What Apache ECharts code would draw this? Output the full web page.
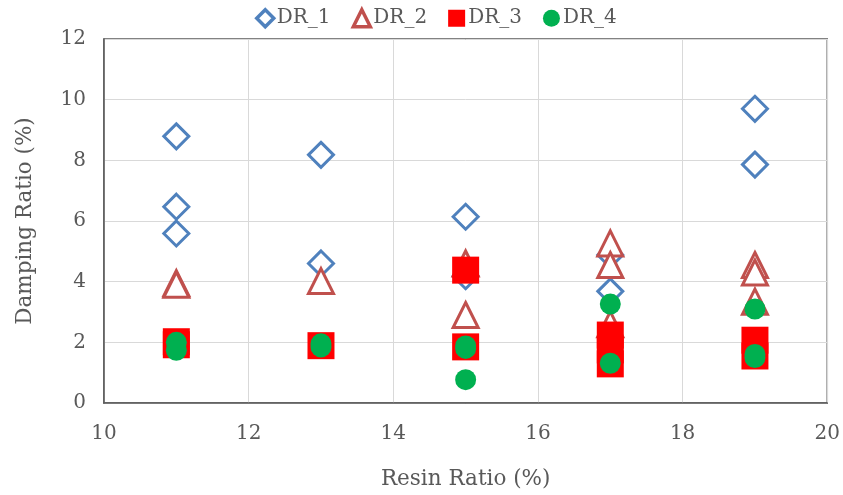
<!DOCTYPE html>
<html>
<head>
<meta charset="utf-8">
<script src="https://cdn.jsdelivr.net/npm/echarts@6/dist/echarts.min.js"></script>
<style>
  html, body { margin: 0; padding: 0; background: #fff; }
  #chart { width: 843px; height: 495px; }
</style>
</head>
<body>
<div id="chart"></div>
<script>
// Damping ratio measurements (%) grouped by resin ratio (%)
const dr1Resin = [11, 11, 11, 13, 13, 15, 15, 17, 17, 19, 19];
const dr1Damp  = [8.79, 6.47, 5.59, 8.18, 4.60, 6.14, 4.18, 4.88, 3.68, 9.70, 7.86];

const dr2Resin = [11, 11, 13, 15, 15, 17, 17, 17, 19, 19, 19];
const dr2Damp  = [3.95, 3.90, 4.02, 4.60, 2.90, 5.26, 4.55, 2.60, 4.55, 4.30, 3.34];

const dr3Resin = [11, 11, 13, 15, 15, 17, 17, 17, 19, 19];
const dr3Damp  = [2.02, 1.92, 1.89, 4.38, 1.85, 2.24, 1.75, 1.29, 2.07, 1.55];

const dr4Resin = [11, 11, 13, 13, 15, 15, 15, 17, 17, 19, 19, 19];
const dr4Damp  = [2.00, 1.74, 1.95, 1.85, 1.88, 1.80, 0.77, 3.26, 1.31, 3.10, 1.60, 1.50];

const seriesNames = ['DR_1', 'DR_2', 'DR_3', 'DR_4'];

function pairs(xs, ys) {
  return xs.map((x, i) => [x, ys[i]]);
}

const textColor = '#595959';
const fontFamily = '"DejaVu Serif", "Liberation Serif", serif';

const chart = echarts.init(document.getElementById('chart'), null, { renderer: 'canvas' });

chart.setOption({
  animation: false,
  backgroundColor: '#ffffff',
  textStyle: { fontFamily: fontFamily, color: textColor },
  legend: {
    top: 3,
    left: 250,
    itemGap: 21,
    itemWidth: 17,
    itemHeight: 17,
    itemStyle: { borderWidth: 3.5 },
    textStyle: { fontFamily: fontFamily, fontSize: 20, color: textColor, padding: [0, 0, 0, -2] },
    data: seriesNames
  },
  grid: {
    left: 104,
    right: 14,
    top: 39,
    bottom: 90,
    show: true,
    borderColor: '#595959',
    borderWidth: 1.5
  },
  xAxis: {
    type: 'value',
    min: 10,
    max: 20,
    interval: 2,
    name: 'Resin Ratio (%)',
    nameLocation: 'middle',
    nameGap: 65,
    nameTextStyle: { fontFamily: fontFamily, fontSize: 21.5, color: textColor },
    axisLine: { show: true, lineStyle: { color: '#595959', width: 1.5 } },
    axisTick: { show: false },
    axisLabel: { fontFamily: fontFamily, fontSize: 20, color: textColor, margin: 21 },
    splitLine: { show: true, lineStyle: { color: '#d9d9d9', width: 1 } }
  },
  yAxis: {
    type: 'value',
    min: 0,
    max: 12,
    interval: 2,
    name: 'Damping Ratio (%)',
    nameLocation: 'middle',
    nameGap: 68,
    nameTextStyle: { fontFamily: fontFamily, fontSize: 21.5, color: textColor },
    axisLine: { show: true, lineStyle: { color: '#595959', width: 1.5 } },
    axisTick: { show: false },
    axisLabel: { fontFamily: fontFamily, fontSize: 20, color: textColor, margin: 18 },
    splitLine: { show: true, lineStyle: { color: '#d9d9d9', width: 1 } }
  },
  series: [
    {
      name: 'DR_1',
      type: 'scatter',
      symbol: 'diamond',
      symbolSize: 25,
      itemStyle: { color: '#ffffff', borderColor: '#4f81bd', borderWidth: 3, opacity: 1 },
      z: 2,
      data: pairs(dr1Resin, dr1Damp)
    },
    {
      name: 'DR_2',
      type: 'scatter',
      symbol: 'triangle',
      symbolSize: 25,
      itemStyle: { color: '#ffffff', borderColor: '#c0504d', borderWidth: 3, opacity: 1 },
      z: 3,
      data: pairs(dr2Resin, dr2Damp)
    },
    {
      name: 'DR_3',
      type: 'scatter',
      symbol: 'rect',
      symbolSize: 27,
      itemStyle: { color: '#ff0000', borderWidth: 0, opacity: 1 },
      z: 4,
      data: pairs(dr3Resin, dr3Damp)
    },
    {
      name: 'DR_4',
      type: 'scatter',
      symbol: 'circle',
      symbolSize: 21,
      itemStyle: { color: '#00b050', borderWidth: 0, opacity: 1 },
      z: 5,
      data: pairs(dr4Resin, dr4Damp)
    }
  ]
});
</script>
</body>
</html>
